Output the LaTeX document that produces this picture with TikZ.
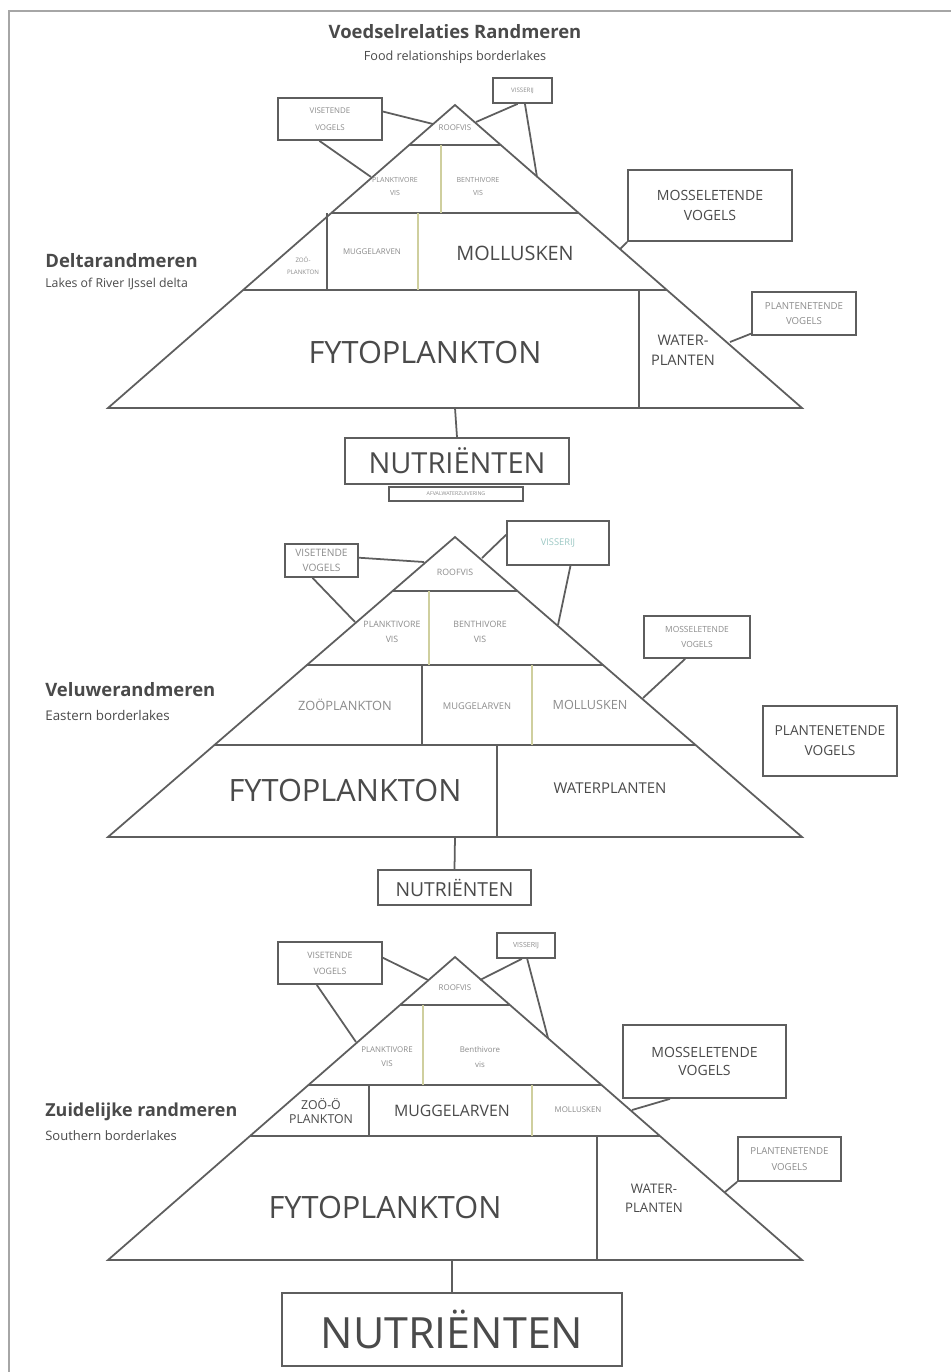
\documentclass[tikz,border=0pt]{standalone}
\usepackage{fontspec}
\setmainfont{Open Sans}
\usetikzlibrary{calc}
\definecolor{lc}{HTML}{5E5E5E}
\definecolor{yc}{HTML}{CFCF9E}
\definecolor{tc}{HTML}{4A4A4A}
\definecolor{tl}{HTML}{8C8C8C}
\definecolor{vc}{HTML}{9CC8C4}
\newcommand\fs[2]{\fontsize{#1pt}{#2pt}\selectfont}
\newcommand\pbox[8]{%
  \pgfmathsetmacro\pbw{(#4-#2)*0.02}%
  \pgfmathsetmacro\pbh{(#5-#3)*0.02}%
  \node[bx, minimum width=\pbw cm, minimum height=\pbh cm, font=#6, text=#7] (#1) at ({(#2+#4)/2},{(#3+#5)/2}) {#8};}
\tikzset{
  ln/.style={draw=lc, line width=1pt},
  yl/.style={draw=yc, line width=1pt},
  bx/.style={draw=lc, line width=1pt, inner sep=0pt, align=center},
  lab/.style={inner sep=0pt, align=center, text=tc},
  tny/.style={inner sep=0pt, align=center, text=tl},
}
\begin{document}
\begin{tikzpicture}[x=0.02cm, y=-0.02cm]
\useasboundingbox (0,0) rectangle (951,1372);
\fill[white] (0,0) rectangle (951,1372);
% frame
\draw[ln, line width=1.1pt, draw=gray!70] (9,1372) -- (9,11) -- (951,11);

% titles
\node[lab, font=\bfseries\fs{10.5}{12}] (title) at (455,32) {Voedselrelaties Randmeren};
\node[lab, font=\fs{7.2}{9}] (subtitle) at (455,57) {Food relationships borderlakes};

% ================= TOP PYRAMID =================
\node[lab, anchor=west, font=\bfseries\fs{10.5}{12}] (n1) at (45,261) {Deltarandmeren};
\node[lab, anchor=west, font=\fs{7}{9}] (e1) at (45,284) {Lakes of River IJssel delta};

\coordinate (A1) at (455,105); \coordinate (L1) at (108,408); \coordinate (R1) at (802,408);
\draw[ln] (A1) -- (L1) -- (R1) -- cycle;
\draw[ln] ($(A1)!{40/303}!(L1)$) -- ($(A1)!{40/303}!(R1)$);
\draw[ln] ($(A1)!{108/303}!(L1)$) -- ($(A1)!{108/303}!(R1)$);
\draw[ln] ($(A1)!{185/303}!(L1)$) -- ($(A1)!{185/303}!(R1)$);
\draw[yl] (441,145) -- (441,213);
\draw[ln] (327,213) -- (327,290);
\draw[yl] (418,213) -- (418,290);
\draw[ln] (639,290) -- (639,408);

\node[tny, font=\fs{4.5}{6}] (rv1) at (455,128) {ROOFVIS};
\node[tny, font=\fs{4}{7.4}] (pv1) at (395,186) {PLANKTIVORE\\VIS};
\node[tny, font=\fs{4}{7.4}] (bv1) at (478,186) {BENTHIVORE\\VIS};
\node[tny, font=\fs{3.5}{6.8}] (zp1) at (303,266) {ZOÖ-\\PLANKTON};
\node[tny, font=\fs{4.5}{6}] (mg1) at (372,252) {MUGGELARVEN};
\node[lab, font=\fs{11.3}{13}] (ml1) at (515,253) {MOLLUSKEN};
\node[lab, font=\fs{17.5}{20}] (fy1) at (425,352) {FYTOPLANKTON};
\node[lab, font=\fs{8.3}{11.3}] (wp1) at (683,350) {WATER-\\PLANTEN};

\pbox{va1}{278}{98}{382}{140}{\fs{4.5}{9.6}}{tl}{VISETENDE\\VOGELS}
\pbox{vs1}{493}{78}{552}{103}{\fs{3.5}{5}}{tl}{VISSERIJ}
\pbox{ms1}{628}{170}{792}{241}{\fs{8}{11.3}}{tc}{MOSSELETENDE\\VOGELS}
\pbox{pl1}{752}{292}{856}{335}{\fs{5.5}{8.5}}{tl}{PLANTENETENDE\\VOGELS}

\coordinate (ca1) at (433,124); \coordinate (cb1) at (371,177);
\coordinate (cc1) at (476,122); \coordinate (cd1) at (537,177);
\coordinate (ce1) at (620,249); \coordinate (cf1) at (730,342);
\draw[ln] ($(va1.north east)!0.33!(va1.south east)$) -- (ca1);
\draw[ln] ($(va1.south west)!0.4!(va1.south east)$) -- (cb1);
\draw[ln] ($(vs1.south west)!0.42!(vs1.south east)$) -- (cc1);
\draw[ln] ($(vs1.south west)!0.54!(vs1.south east)$) -- (cd1);
\draw[ln] (ms1.south west) -- (ce1);
\draw[ln] ($(pl1.south west)!0.05!(pl1.north west)$) -- (cf1);

\pbox{nu1}{345}{438}{569}{484}{\fs{16.5}{18}}{tc}{NUTRIËNTEN}
\pbox{sb1}{389}{487}{523}{501}{\fs{3}{4}}{tl}{AFVALWATERZUIVERING}
\coordinate (bb1) at (455,408);
\draw[ln] (bb1) -- (nu1.north);

% ================= MIDDLE PYRAMID =================
\node[lab, anchor=west, font=\bfseries\fs{10.5}{12}] (n2) at (45,690) {Veluwerandmeren};
\node[lab, anchor=west, font=\fs{7.6}{9}] (e2) at (45,715) {Eastern borderlakes};

\coordinate (A2) at (455,537); \coordinate (L2) at (108,837); \coordinate (R2) at (802,837);
\draw[ln] (A2) -- (L2) -- (R2) -- cycle;
\draw[ln] ($(A2)!{54/300}!(L2)$) -- ($(A2)!{54/300}!(R2)$);
\draw[ln] ($(A2)!{128/300}!(L2)$) -- ($(A2)!{128/300}!(R2)$);
\draw[ln] ($(A2)!{208/300}!(L2)$) -- ($(A2)!{208/300}!(R2)$);
\draw[yl] (429,591) -- (429,665);
\draw[ln] (422,665) -- (422,745);
\draw[yl] (532,665) -- (532,745);
\draw[ln] (497,745) -- (497,837);

\node[tny, font=\fs{5}{6}] (rv2) at (455,572) {ROOFVIS};
\node[tny, font=\fs{5}{8.5}] (pv2) at (392,632) {PLANKTIVORE\\VIS};
\node[tny, font=\fs{5}{8.5}] (bv2) at (480,632) {BENTHIVORE\\VIS};
\node[tny, font=\fs{7.3}{9}] (zp2) at (345,705) {ZOÖPLANKTON};
\node[tny, font=\fs{5.3}{7}] (mg2) at (477,706) {MUGGELARVEN};
\node[tny, font=\fs{7.2}{9}] (ml2) at (590,705) {MOLLUSKEN};
\node[lab, font=\fs{17.5}{20}] (fy2) at (345,790) {FYTOPLANKTON};
\node[lab, font=\fs{8.5}{10}] (wp2) at (610,788) {WATERPLANTEN};

\pbox{va2}{285}{544}{358}{577}{\fs{5.8}{8.5}}{tl}{VISETENDE\\VOGELS}
\pbox{vs2}{507}{521}{609}{565}{\fs{5.3}{7}}{vc}{VISSERIJ}
\pbox{ms2}{644}{616}{750}{658}{\fs{4.8}{8}}{tl}{MOSSELETENDE\\VOGELS}
\pbox{pl2}{763}{706}{897}{776}{\fs{7.8}{11.3}}{tc}{PLANTENETENDE\\VOGELS}

\coordinate (ca2) at (424,562); \coordinate (cb2) at (355,622);
\coordinate (cc2) at (482,558); \coordinate (cd2) at (558,625);
\coordinate (ce2) at (643,698);
\draw[ln] ($(va2.north east)!0.42!(va2.south east)$) -- (ca2);
\draw[ln] ($(va2.south west)!0.38!(va2.south east)$) -- (cb2);
\draw[ln] ($(vs2.north west)!0.32!(vs2.south west)$) -- (cc2);
\draw[ln] ($(vs2.south west)!0.62!(vs2.south east)$) -- (cd2);
\draw[ln] ($(ms2.south west)!0.39!(ms2.south east)$) -- (ce2);

\pbox{nu2}{378}{870}{531}{905}{\fs{11}{12}}{tc}{NUTRIËNTEN}
\coordinate (bb2) at (455,837);
\draw[ln] (bb2) -- (nu2.north);

% ================= BOTTOM PYRAMID =================
\node[lab, anchor=west, font=\bfseries\fs{10.2}{12}] (n3) at (45,1112) {Zuidelijke randmeren};
\node[lab, anchor=west, font=\fs{7.4}{9}] (e3) at (45,1136) {Southern borderlakes};

\coordinate (A3) at (455,957); \coordinate (L3) at (108,1260); \coordinate (R3) at (802,1260);
\draw[ln] (A3) -- (L3) -- (R3) -- cycle;
\draw[ln] ($(A3)!{48/303}!(L3)$) -- ($(A3)!{48/303}!(R3)$);
\draw[ln] ($(A3)!{128/303}!(L3)$) -- ($(A3)!{128/303}!(R3)$);
\draw[ln] ($(A3)!{179/303}!(L3)$) -- ($(A3)!{179/303}!(R3)$);
\draw[yl] (423,1005) -- (423,1085);
\draw[ln] (369,1085) -- (369,1136);
\draw[yl] (532,1085) -- (532,1136);
\draw[ln] (597,1136) -- (597,1260);

\node[tny, font=\fs{4.5}{6}] (rv3) at (455,988) {ROOFVIS};
\node[tny, font=\fs{4.5}{8}] (pv3) at (387,1057) {PLANKTIVORE\\VIS};
\node[tny, font=\fs{4.5}{8}] (bv3) at (480,1057) {Benthivore\\vis};
\node[lab, font=\fs{7}{8}] (zp3) at (321,1111) {ZOÖ-Ö\\PLANKTON};
\node[lab, font=\fs{9}{11}] (mg3) at (452,1111) {MUGGELARVEN};
\node[tny, font=\fs{4.5}{6}] (ml3) at (578,1110) {MOLLUSKEN};
\node[lab, font=\fs{17.5}{20}] (fy3) at (385,1207) {FYTOPLANKTON};
\node[lab, font=\fs{7.5}{10.8}] (wp3) at (654,1198) {WATER-\\PLANTEN};

\pbox{va3}{278}{942}{382}{984}{\fs{5}{9}}{tl}{VISETENDE\\VOGELS}
\pbox{vs3}{497}{933}{555}{958}{\fs{4}{5}}{tl}{VISSERIJ}
\pbox{ms3}{623}{1025}{786}{1098}{\fs{8}{10.2}}{tc}{MOSSELETENDE\\VOGELS}
\pbox{pl3}{738}{1137}{841}{1181}{\fs{5.5}{9}}{tl}{PLANTENETENDE\\VOGELS}

\coordinate (ca3) at (428,980); \coordinate (cb3) at (356,1042);
\coordinate (cc3) at (480,980); \coordinate (cd3) at (548,1038);
\coordinate (ce3) at (632,1110); \coordinate (cf3) at (725,1192);
\draw[ln] ($(va3.north east)!0.38!(va3.south east)$) -- (ca3);
\draw[ln] ($(va3.south west)!0.375!(va3.south east)$) -- (cb3);
\draw[ln] ($(vs3.south west)!0.43!(vs3.south east)$) -- (cc3);
\draw[ln] ($(vs3.south west)!0.52!(vs3.south east)$) -- (cd3);
\draw[ln] ($(ms3.south west)!0.29!(ms3.south east)$) -- (ce3);
\draw[ln] (pl3.south west) -- (cf3);

\pbox{nu3}{282}{1293}{622}{1366}{\fs{24.5}{28}}{tc}{NUTRIËNTEN}
\coordinate (bb3) at (452,1260);
\draw[ln] (bb3) -- (nu3.north);
\end{tikzpicture}
\end{document}
